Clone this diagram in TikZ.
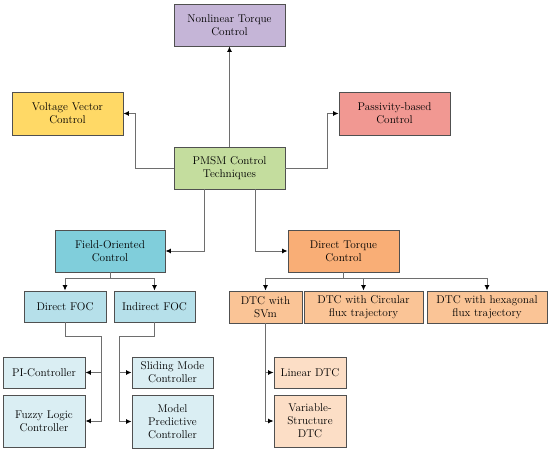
\documentclass[tikz,border=0pt]{standalone}
\usetikzlibrary{arrows.meta}
\definecolor{cNLT}{RGB}{197,181,215}
\definecolor{cVVC}{RGB}{255,217,102}
\definecolor{cPBC}{RGB}{241,152,146}
\definecolor{cPMSM}{RGB}{196,221,158}
\definecolor{cFOC}{RGB}{128,206,219}
\definecolor{cFOCa}{RGB}{182,224,234}
\definecolor{cFOCb}{RGB}{218,238,243}
\definecolor{cDTC}{RGB}{249,174,118}
\definecolor{cDTCa}{RGB}{250,196,150}
\definecolor{cDTCb}{RGB}{252,222,198}
\definecolor{cLine}{RGB}{110,110,110}
\definecolor{cBorder}{RGB}{80,80,80}
\tikzset{
  box/.style={draw=cBorder, line width=0.9pt, rectangle, align=center, inner sep=1pt,
    font=\fontsize{11.3}{13}\selectfont, text=black},
  conn/.style={draw=cLine, line width=0.9pt},
  arr/.style={conn, -{Latex[length=5.5pt,width=5pt,color=black]}}
}
\begin{document}
\begin{tikzpicture}[x=1bp,y=-1bp]
\useasboundingbox[fill=white] (0,0) rectangle (550,451);
% top level
\node[box, fill=cNLT, minimum width=111bp, minimum height=42bp] (nlt) at (229.5,25) {Nonlinear Torque\\Control};
\node[box, fill=cVVC, minimum width=111bp, minimum height=43bp] (vvc) at (67.5,113.5) {Voltage Vector\\Control};
\node[box, fill=cPBC, minimum width=111bp, minimum height=43bp] (pbc) at (394.5,113.5) {Passivity-based\\Control};
\node[box, fill=cPMSM, minimum width=111bp, minimum height=42bp] (pmsm) at (229.5,168) {PMSM Control\\Techniques};
% second level
\node[box, fill=cFOC, minimum width=110bp, minimum height=42bp] (foc) at (110,251) {Field-Oriented\\Control};
\node[box, fill=cDTC, minimum width=111bp, minimum height=42bp] (dtc) at (343.5,251) {Direct Torque\\Control};
% FOC branch
\node[box, fill=cFOCa, minimum width=82bp, minimum height=31bp] (dfoc) at (65,306.5) {Direct FOC};
\node[box, fill=cFOCa, minimum width=81bp, minimum height=31bp] (ifoc) at (154.5,306.5) {Indirect FOC};
\node[box, fill=cFOCb, minimum width=82bp, minimum height=31bp] (pi) at (44,372.5) {PI-Controller};
\node[box, fill=cFOCb, minimum width=82bp, minimum height=52bp] (fuzzy) at (44,421) {Fuzzy Logic\\Controller};
\node[box, fill=cFOCb, minimum width=81bp, minimum height=31bp] (smc) at (172.5,372.5) {Sliding Mode\\Controller};
\node[box, fill=cFOCb, minimum width=81bp, minimum height=53bp] (mpc) at (172.5,421.5) {Model\\Predictive\\Controller};
% DTC branch
\node[box, fill=cDTCa, minimum width=73bp, minimum height=32bp] (svm) at (265.5,307) {DTC with\\SVm};
\node[box, fill=cDTCa, minimum width=119bp, minimum height=32bp] (circ) at (363.5,307) {DTC with Circular\\flux trajectory};
\node[box, fill=cDTCa, minimum width=120bp, minimum height=32bp] (hex) at (487,307) {DTC with hexagonal\\flux trajectory};
\node[box, fill=cDTCb, minimum width=72bp, minimum height=31bp] (lin) at (310,372.5) {Linear DTC};
\node[box, fill=cDTCb, minimum width=72bp, minimum height=52bp] (vs) at (310,421) {Variable-\\Structure\\DTC};
% connectors from PMSM
\draw[arr] (pmsm.north) -- (nlt.south);
\draw[arr] (pmsm.west) -- ++(-38,0) |- (vvc.east);
\draw[arr] (pmsm.east) -- ++(42,0) |- (pbc.west);
\draw[arr] ([xshift=-25.5bp]pmsm.south) |- (foc.east);
\draw[arr] ([xshift=25.5bp]pmsm.south) |- (dtc.west);
% FOC
\coordinate (fj) at ([yshift=-6bp]foc.south);
\draw[arr] (foc.south) -- (fj) -| (dfoc.north);
\draw[arr] (fj) -| (ifoc.north);
\coordinate (dj) at (101,336);
\draw[arr] (dfoc.south) |- (dj) |- (fuzzy.east);
\draw[arr] (dj |- pi.east) -- (pi.east);
\coordinate (ij) at (119,336);
\draw[arr] (ifoc.south) |- (ij) |- (mpc.west);
\draw[arr] (ij |- smc.west) -- (smc.west);
% DTC
\coordinate (tj) at ([yshift=-6bp]dtc.south);
\draw[arr] (dtc.south) -- (tj) -| (svm.north);
\draw[arr] (tj) -| (circ.north);
\draw[arr] (tj) -| (hex.north);
\draw[arr] (svm.south) |- (vs.west);
\draw[arr] (svm.south |- lin.west) -- (lin.west);
\end{tikzpicture}
\end{document}
